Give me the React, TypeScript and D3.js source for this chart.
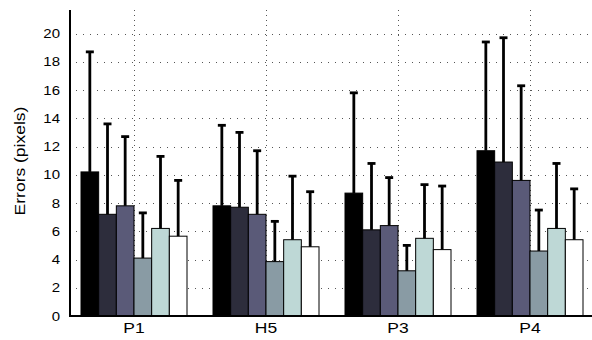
import React from "react";
import * as d3 from "d3";

// Groups along the x axis
const categories = ["P1", "H5", "P3", "P4"];

// Mean error per series (6 series per group)
const means = [
  [10.2, 7.2, 7.8, 4.1, 6.2, 5.65],
  [7.8, 7.7, 7.2, 3.85, 5.4, 4.9],
  [8.7, 6.1, 6.4, 3.2, 5.5, 4.7],
  [11.7, 10.9, 9.6, 4.6, 6.2, 5.4],
];

// Upper end of each error bar
const upper = [
  [18.7, 13.6, 12.7, 7.3, 11.3, 9.6],
  [13.5, 13.0, 11.7, 6.7, 9.9, 8.8],
  [15.8, 10.8, 9.8, 5.0, 9.3, 9.2],
  [19.4, 19.7, 16.3, 7.5, 10.8, 9.0],
];

const seriesColors = ["#000000", "#2d2d3c", "#5a5a78", "#899ba4", "#bed8d6", "#ffffff"];

const yTicks = [0, 2, 4, 6, 8, 10, 12, 14, 16, 18, 20];

const W = 592;
const H = 340;
const left = 70;
const bottom = 316;
const top = 10;

export default function App() {
  const x = d3.scaleLinear().domain([0, 3]).range([134, 530]);
  const y = d3.scaleLinear().domain([0, 20]).range([bottom, 33.5]);
  const groupWidth = 106;
  const inner = d3
    .scaleBand<number>()
    .domain(d3.range(seriesColors.length))
    .range([-groupWidth / 2, groupWidth / 2])
    .padding(0);
  const bw = inner.bandwidth();
  const capW = 7;
  const font = "'Liberation Sans', Arial, Helvetica, sans-serif";

  return (
    <svg
      width={W}
      height={H}
      style={{ position: "absolute", left: 0, top: 0, background: "#fff" }}
      fontFamily={font}
    >
      {/* horizontal grid */}
      {yTicks.slice(1).map((t) => (
        <line
          key={"hg" + t}
          x1={left + 6}
          x2={W}
          y1={Math.round(y(t)) + 0.5}
          y2={Math.round(y(t)) + 0.5}
          stroke="#555"
          strokeWidth={1}
          strokeDasharray="1,6"
        />
      ))}
      {/* vertical grid */}
      {categories.map((c, i) => (
        <line
          key={"vg" + c}
          x1={Math.round(x(i)) + 0.5}
          x2={Math.round(x(i)) + 0.5}
          y1={top}
          y2={bottom}
          stroke="#555"
          strokeWidth={1}
          strokeDasharray="1,4"
        />
      ))}
      {/* bars */}
      {means.map((row, gi) =>
        row.map((v, si) => {
          const x0 = x(gi) + (inner(si) as number);
          return (
            <rect
              key={`b${gi}-${si}`}
              x={x0}
              y={y(v)}
              width={bw}
              height={bottom - y(v)}
              fill={seriesColors[si]}
              stroke="#000"
              strokeWidth={1}
            />
          );
        })
      )}
      {/* error bars */}
      {upper.map((row, gi) =>
        row.map((u, si) => {
          const cx = x(gi) + (inner(si) as number) + bw / 2;
          return (
            <g key={`e${gi}-${si}`} stroke="#000" strokeWidth={2.8}>
              <line x1={cx} x2={cx} y1={y(means[gi][si])} y2={y(u)} />
              <line x1={cx - capW / 2 - 0.5} x2={cx + capW / 2 + 0.5} y1={y(u)} y2={y(u)} />
            </g>
          );
        })
      )}
      {/* axes */}
      <line x1={left} x2={left} y1={top} y2={bottom + 1} stroke="#000" strokeWidth={2} />
      <line x1={left - 1} x2={W} y1={bottom} y2={bottom} stroke="#000" strokeWidth={2} />
      {/* y tick labels */}
      {yTicks.map((t) => (
        <text
          key={"yt" + t}
          transform={`translate(60, ${y(t)}) scale(1.2, 1)`}
          dy="0.36em"
          textAnchor="end"
          fontSize={12.5}
          fill="#000"
        >
          {t}
        </text>
      ))}
      {/* x tick labels */}
      {categories.map((c, i) => (
        <text
          key={"xt" + c}
          transform={`translate(${x(i)}, 333) scale(1.25, 1)`}
          textAnchor="middle"
          fontSize={14}
          fill="#000"
        >
          {c}
        </text>
      ))}
      <text
        transform={`translate(24.5, 161) rotate(-90) scale(1.25, 1)`}
        textAnchor="middle"
        fontSize={14}
        fill="#000"
      >
        Errors (pixels)
      </text>
    </svg>
  );
}
